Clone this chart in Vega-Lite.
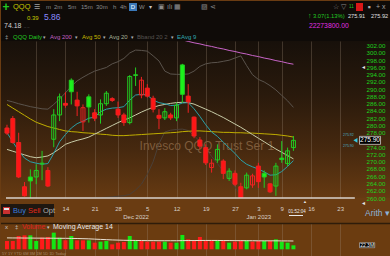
{
  "$schema": "https://vega.github.io/schema/vega-lite/v6.json",
  "background": "#6a3c12",
  "padding": 0,
  "spacing": 0,
  "bounds": "flush",
  "config": {"view": {"stroke": null}, "font": "Liberation Sans"},
  "resolve": {"scale": {"x": "independent", "y": "independent", "color": "independent", "fill": "independent", "stroke": "independent"}},
  "datasets": {
    "d": [
      {"i":0,"o":279.3,"h":280.2,"l":277.4,"c":277.9,"dir":"down","body":"falling","v":46.5,"vdir":"down","ma50":285.8,"ma20":273.4,"ema9":278.0,"bbu":286.9,"bbl":256.5,"vma":64},
      {"i":1,"o":281.9,"h":282.6,"l":275.0,"c":275.3,"dir":"down","body":"falling","v":46.5,"vdir":"down","ma50":284.8,"ma20":272.9,"ema9":275.5,"bbu":286.5,"bbl":256.0,"vma":63.5},
      {"i":2,"o":275.3,"h":278.0,"l":265.5,"c":265.8,"dir":"down","body":"falling","v":74.5,"vdir":"down","ma50":283.8,"ma20":272.4,"ema9":273.0,"bbu":286.0,"bbl":255.5,"vma":63.5},
      {"i":3,"o":263.1,"h":264.4,"l":260.4,"c":260.6,"dir":"down","body":"falling","v":78.2,"vdir":"down","ma50":282.8,"ma20":271.9,"ema9":271.0,"bbu":285.6,"bbl":255.0,"vma":63.0},
      {"i":4,"o":265.8,"h":267.9,"l":259.4,"c":264.7,"dir":"up","body":"falling","v":78.2,"vdir":"up","ma50":281.8,"ma20":271.4,"ema9":270.0,"bbu":285.2,"bbl":254.8,"vma":63.0},
      {"i":5,"o":265.8,"h":269.3,"l":263.8,"c":267.6,"dir":"up","body":"rising","v":46.5,"vdir":"up","ma50":280.9,"ma20":271.1,"ema9":269.6,"bbu":284.9,"bbl":255.0,"vma":62.5},
      {"i":6,"o":269.4,"h":273.0,"l":264.9,"c":269.6,"dir":"up","body":"rising","v":65.2,"vdir":"down","ma50":280.3,"ma20":271.3,"ema9":269.3,"bbu":284.6,"bbl":255.3,"vma":62.5},
      {"i":7,"o":267.6,"h":268.5,"l":263.0,"c":263.3,"dir":"down","body":"falling","v":69.0,"vdir":"down","ma50":279.7,"ma20":271.6,"ema9":269.5,"bbu":284.5,"bbl":255.8,"vma":62.0},
      {"i":8,"o":276.2,"h":284.5,"l":274.0,"c":282.9,"dir":"up","body":"rising","v":93.3,"vdir":"up","ma50":279.3,"ma20":272.5,"ema9":272.3,"bbu":285.8,"bbl":256.5,"vma":62.0},
      {"i":9,"o":282.9,"h":288.8,"l":281.2,"c":287.9,"dir":"up","body":"rising","v":65.2,"vdir":"up","ma50":278.9,"ma20":273.6,"ema9":275.5,"bbu":287.3,"bbl":257.3,"vma":61.5},
      {"i":10,"o":286.1,"h":289.2,"l":284.9,"c":285.6,"dir":"down","body":"falling","v":50.2,"vdir":"down","ma50":278.5,"ma20":274.8,"ema9":277.5,"bbu":289.0,"bbl":258.0,"vma":61.5},
      {"i":11,"o":292.5,"h":293.0,"l":285.8,"c":289.3,"dir":"up","body":"falling","v":74.5,"vdir":"up","ma50":278.3,"ma20":275.4,"ema9":279.3,"bbu":290.8,"bbl":258.7,"vma":61.0},
      {"i":12,"o":287.0,"h":289.3,"l":282.6,"c":285.4,"dir":"down","body":"falling","v":50.2,"vdir":"down","ma50":278.2,"ma20":275.9,"ema9":280.5,"bbu":292.3,"bbl":259.3,"vma":60.5},
      {"i":13,"o":281.0,"h":285.8,"l":278.5,"c":284.9,"dir":"down","body":"rising","v":50.2,"vdir":"down","ma50":278.0,"ma20":276.3,"ema9":281.2,"bbu":293.3,"bbl":259.7,"vma":59.5},
      {"i":14,"o":287.9,"h":288.6,"l":280.8,"c":285.1,"dir":"up","body":"falling","v":50.2,"vdir":"up","ma50":277.9,"ma20":276.8,"ema9":282.0,"bbu":294.2,"bbl":259.9,"vma":58.5},
      {"i":15,"o":283.5,"h":284.5,"l":281.2,"c":282.0,"dir":"down","body":"falling","v":37.2,"vdir":"down","ma50":277.8,"ma20":277.6,"ema9":282.3,"bbu":295.0,"bbl":260.0,"vma":57.0},
      {"i":16,"o":282.9,"h":287.2,"l":280.5,"c":286.0,"dir":"up","body":"rising","v":42.8,"vdir":"up","ma50":277.6,"ma20":278.4,"ema9":283.8,"bbu":295.5,"bbl":260.1,"vma":55.5},
      {"i":17,"o":286.0,"h":289.5,"l":285.4,"c":288.9,"dir":"up","body":"rising","v":46.5,"vdir":"up","ma50":277.5,"ma20":279.2,"ema9":284.5,"bbu":296.0,"bbl":260.2,"vma":54.0},
      {"i":18,"o":287.4,"h":287.8,"l":286.5,"c":286.9,"dir":"down","body":"falling","v":27.8,"vdir":"down","ma50":277.3,"ma20":280.0,"ema9":284.8,"bbu":297.0,"bbl":260.3,"vma":52.5},
      {"i":19,"o":284.5,"h":286.6,"l":282.1,"c":282.9,"dir":"down","body":"falling","v":37.2,"vdir":"down","ma50":277.2,"ma20":280.8,"ema9":284.9,"bbu":297.6,"bbl":260.5,"vma":51.5},
      {"i":20,"o":282.9,"h":283.5,"l":279.9,"c":280.8,"dir":"down","body":"falling","v":40.9,"vdir":"down","ma50":277.2,"ma20":281.5,"ema9":285.2,"bbu":298.5,"bbl":260.6,"vma":50.5},
      {"i":21,"o":280.8,"h":293.9,"l":280.3,"c":293.5,"dir":"up","body":"rising","v":74.5,"vdir":"up","ma50":277.3,"ma20":282.1,"ema9":287.0,"bbu":300.0,"bbl":261.0,"vma":50.0},
      {"i":22,"o":293.8,"h":296.0,"l":290.9,"c":294.0,"dir":"up","body":"rising","v":50.2,"vdir":"up","ma50":277.4,"ma20":282.9,"ema9":288.4,"bbu":300.8,"bbl":262.2,"vma":49.5},
      {"i":23,"o":288.4,"h":293.4,"l":287.5,"c":292.5,"dir":"down","body":"rising","v":46.5,"vdir":"down","ma50":277.5,"ma20":283.7,"ema9":288.6,"bbu":300.7,"bbl":263.8,"vma":49.0},
      {"i":24,"o":290.3,"h":291.4,"l":287.7,"c":288.1,"dir":"down","body":"falling","v":42.8,"vdir":"down","ma50":277.6,"ma20":284.4,"ema9":288.4,"bbu":300.5,"bbl":266.5,"vma":48.5},
      {"i":25,"o":287.5,"h":288.2,"l":283.6,"c":284.5,"dir":"down","body":"falling","v":42.8,"vdir":"down","ma50":277.7,"ma20":285.0,"ema9":287.0,"bbu":299.2,"bbl":270.0,"vma":48.5},
      {"i":26,"o":282.8,"h":284.5,"l":279.0,"c":282.0,"dir":"down","body":"falling","v":42.8,"vdir":"down","ma50":277.8,"ma20":285.5,"ema9":286.3,"bbu":297.8,"bbl":275.0,"vma":48.0},
      {"i":27,"o":282.1,"h":284.8,"l":281.5,"c":283.8,"dir":"up","body":"rising","v":42.8,"vdir":"up","ma50":277.9,"ma20":285.8,"ema9":286.0,"bbu":295.0,"bbl":278.2,"vma":48.0},
      {"i":28,"o":282.9,"h":283.5,"l":281.5,"c":282.1,"dir":"down","body":"falling","v":37.2,"vdir":"down","ma50":278.0,"ma20":286.1,"ema9":285.5,"bbu":294.2,"bbl":278.7,"vma":48.0},
      {"i":29,"o":282.1,"h":286.3,"l":281.2,"c":285.6,"dir":"up","body":"rising","v":37.2,"vdir":"up","ma50":278.1,"ma20":286.3,"ema9":285.6,"bbu":294.1,"bbl":278.9,"vma":48.0,"ma200":303.9},
      {"i":30,"o":296.7,"h":297.0,"l":286.3,"c":288.6,"dir":"up","body":"falling","v":80.3,"vdir":"up","ma50":278.3,"ma20":286.4,"ema9":286.2,"bbu":294.1,"bbl":279.0,"vma":48.5,"ma200":303.6},
      {"i":31,"o":288.1,"h":291.4,"l":283.5,"c":286.5,"dir":"down","body":"falling","v":55.8,"vdir":"down","ma50":278.4,"ma20":286.3,"ema9":286.3,"bbu":294.2,"bbl":278.6,"vma":49.0,"ma200":303.2},
      {"i":32,"o":282.3,"h":282.5,"l":276.5,"c":277.1,"dir":"down","body":"falling","v":46.5,"vdir":"down","ma50":278.5,"ma20":285.9,"ema9":284.6,"bbu":295.0,"bbl":277.2,"vma":49.0,"ma200":302.8},
      {"i":33,"o":276.0,"h":276.8,"l":273.5,"c":274.3,"dir":"down","body":"falling","v":69.0,"vdir":"down","ma50":278.5,"ma20":285.2,"ema9":282.5,"bbu":296.3,"bbl":275.6,"vma":49.5,"ma200":302.5},
      {"i":34,"o":273.9,"h":274.8,"l":269.1,"c":269.7,"dir":"down","body":"falling","v":50.2,"vdir":"down","ma50":278.4,"ma20":284.5,"ema9":280.2,"bbu":297.0,"bbl":273.6,"vma":49.5,"ma200":302.1},
      {"i":35,"o":268.4,"h":270.7,"l":267.0,"c":269.6,"dir":"down","body":"rising","v":50.2,"vdir":"down","ma50":278.3,"ma20":283.8,"ema9":278.2,"bbu":297.3,"bbl":271.5,"vma":49.5,"ma200":301.8},
      {"i":36,"o":270.5,"h":274.8,"l":269.7,"c":273.4,"dir":"up","body":"rising","v":50.2,"vdir":"up","ma50":278.2,"ma20":283.0,"ema9":277.0,"bbu":297.4,"bbl":269.5,"vma":49.5,"ma200":301.4},
      {"i":37,"o":270.2,"h":270.7,"l":265.2,"c":266.8,"dir":"down","body":"falling","v":50.2,"vdir":"down","ma50":278.1,"ma20":282.2,"ema9":275.4,"bbu":297.7,"bbl":267.4,"vma":49.0,"ma200":301.1},
      {"i":38,"o":265.4,"h":268.2,"l":264.7,"c":267.4,"dir":"up","body":"rising","v":37.2,"vdir":"up","ma50":278.1,"ma20":281.3,"ema9":273.8,"bbu":298.0,"bbl":265.3,"vma":49.0,"ma200":300.7},
      {"i":39,"o":266.8,"h":267.6,"l":263.3,"c":263.8,"dir":"down","body":"falling","v":42.8,"vdir":"down","ma50":278.0,"ma20":280.4,"ema9":272.3,"bbu":298.6,"bbl":263.0,"vma":48.5,"ma200":300.4},
      {"i":40,"o":263.1,"h":264.2,"l":260.1,"c":260.1,"dir":"down","body":"falling","v":46.5,"vdir":"down","ma50":278.0,"ma20":279.5,"ema9":270.5,"bbu":299.2,"bbl":260.7,"vma":48.5,"ma200":300.0},
      {"i":41,"o":262.8,"h":267.0,"l":262.4,"c":266.3,"dir":"up","body":"rising","v":50.2,"vdir":"up","ma50":277.9,"ma20":278.5,"ema9":269.3,"bbu":296.5,"bbl":259.2,"vma":48.0,"ma200":299.7},
      {"i":42,"o":263.6,"h":266.7,"l":262.8,"c":266.1,"dir":"down","body":"rising","v":42.8,"vdir":"down","ma50":277.9,"ma20":277.5,"ema9":268.6,"bbu":294.0,"bbl":258.2,"vma":48.0,"ma200":299.3},
      {"i":43,"o":268.8,"h":269.7,"l":262.8,"c":264.5,"dir":"down","body":"falling","v":46.5,"vdir":"down","ma50":277.8,"ma20":276.5,"ema9":268.0,"bbu":292.7,"bbl":257.5,"vma":47.5,"ma200":299.0},
      {"i":44,"o":266.8,"h":267.6,"l":262.8,"c":265.8,"dir":"up","body":"falling","v":46.5,"vdir":"up","ma50":277.7,"ma20":275.5,"ema9":267.2,"bbu":292.0,"bbl":257.2,"vma":47.5,"ma200":298.6},
      {"i":45,"o":263.9,"h":264.1,"l":261.4,"c":261.7,"dir":"down","body":"falling","v":46.5,"vdir":"down","ma50":277.6,"ma20":274.5,"ema9":266.3,"bbu":291.0,"bbl":257.0,"vma":47.5,"ma200":298.3},
      {"i":46,"o":263.3,"h":269.7,"l":260.6,"c":268.8,"dir":"up","body":"rising","v":55.8,"vdir":"up","ma50":277.5,"ma20":273.5,"ema9":266.4,"bbu":289.8,"bbl":256.8,"vma":47.5,"ma200":297.9},
      {"i":47,"o":271.0,"h":275.7,"l":269.7,"c":270.6,"dir":"up","body":"falling","v":42.8,"vdir":"up","ma50":277.3,"ma20":272.6,"ema9":267.3,"bbu":288.3,"bbl":256.8,"vma":47.0,"ma200":297.6},
      {"i":48,"o":269.5,"h":273.9,"l":268.8,"c":273.0,"dir":"up","body":"rising","v":37.2,"vdir":"up","ma50":277.1,"ma20":271.7,"ema9":268.7,"bbu":286.8,"bbl":256.9,"vma":47.0,"ma200":297.2},
      {"i":49,"o":273.9,"h":277.1,"l":273.0,"c":275.9,"dir":"up","body":"rising","v":22.3,"vdir":"up","ma50":276.8,"ma20":270.8,"ema9":270.3,"bbu":285.0,"bbl":257.0,"vma":46.5,"ma200":296.9}
    ]
  },
  "vconcat": [
    {
      "width": 390,
      "height": 40,
      "view": {"stroke": null, "fill": "#0f0b08"},
      "data": {"values": [{}]},
      "layer": [
        {"mark": {"type": "text", "text": "+", "x": 5, "y": 6, "align": "center", "baseline": "middle", "fontSize": 12, "fontWeight": "bold", "color": "#22c822"}},
        {"mark": {"type": "text", "text": "QQQ", "x": 12, "y": 6, "align": "left", "baseline": "middle", "fontSize": 7.5, "color": "#c8c800"}},
        {"mark": {"type": "text", "text": "☰", "x": 33, "y": 6, "align": "left", "baseline": "middle", "fontSize": 7, "color": "#a0a0a0"}},
        {"mark": {"type": "text", "text": "m", "x": 45, "y": 6, "align": "left", "baseline": "middle", "fontSize": 6, "color": "#8c8c8c"}},
        {"mark": {"type": "text", "text": "2m", "x": 53, "y": 6, "align": "left", "baseline": "middle", "fontSize": 6, "color": "#8c8c8c"}},
        {"mark": {"type": "text", "text": "5m", "x": 67, "y": 6, "align": "left", "baseline": "middle", "fontSize": 6, "color": "#8c8c8c"}},
        {"mark": {"type": "text", "text": "15m", "x": 80, "y": 6, "align": "left", "baseline": "middle", "fontSize": 6, "color": "#8c8c8c"}},
        {"mark": {"type": "text", "text": "30m", "x": 95, "y": 6, "align": "left", "baseline": "middle", "fontSize": 6, "color": "#8c8c8c"}},
        {"mark": {"type": "text", "text": "h", "x": 112, "y": 6, "align": "left", "baseline": "middle", "fontSize": 6, "color": "#8c8c8c"}},
        {"mark": {"type": "text", "text": "4h", "x": 119, "y": 6, "align": "left", "baseline": "middle", "fontSize": 6, "color": "#8c8c8c"}},
        {"mark": {"type": "rect", "x": 128, "x2": 136, "y": 2, "y2": 10, "color": "#3a78b8"}, "encoding": {}},
        {"mark": {"type": "text", "text": "D", "x": 132, "y": 6, "align": "center", "baseline": "middle", "fontSize": 6, "color": "#ffffff"}},
        {"mark": {"type": "text", "text": "W", "x": 138, "y": 6, "align": "left", "baseline": "middle", "fontSize": 6, "color": "#8c8c8c"}},
        {"mark": {"type": "text", "text": "▾", "x": 148, "y": 6, "align": "left", "baseline": "middle", "fontSize": 6, "color": "#c8c8c8"}},
        {"mark": {"type": "text", "text": "▣ ılı ▦", "x": 157, "y": 6, "align": "left", "baseline": "middle", "fontSize": 7, "color": "#8c8c8c"}},
        {"mark": {"type": "text", "text": "▨ ⋖", "x": 200, "y": 6, "align": "left", "baseline": "middle", "fontSize": 7, "color": "#8c8c8c"}},
        {"mark": {"type": "text", "text": "☆ ▽", "x": 332, "y": 6, "align": "left", "baseline": "middle", "fontSize": 6.5, "color": "#8c8c8c"}},
        {"mark": {"type": "text", "text": "11", "x": 348, "y": 6, "align": "left", "baseline": "middle", "fontSize": 4.5, "color": "#22c822"}},
        {"mark": {"type": "rect", "x": 355, "x2": 362, "y": 2, "y2": 10, "color": "#d81818"}, "encoding": {}},
        {"mark": {"type": "text", "text": "▪", "x": 368, "y": 6, "align": "center", "baseline": "middle", "fontSize": 9, "color": "#b0b0b0"}},
        {"mark": {"type": "text", "text": "+ x", "x": 375, "y": 6, "align": "left", "baseline": "middle", "fontSize": 7, "color": "#a0a0a0"}},
        {"mark": {"type": "text", "text": "0.39", "x": 26, "y": 16.5, "align": "left", "baseline": "middle", "fontSize": 6, "color": "#c8c800"}},
        {"mark": {"type": "text", "text": "5.86", "x": 43, "y": 16, "align": "left", "baseline": "middle", "fontSize": 8.5, "color": "#8a8aff"}},
        {"mark": {"type": "text", "text": "74.18", "x": 3, "y": 25, "align": "left", "baseline": "middle", "fontSize": 7, "color": "#d0d0d0"}},
        {"mark": {"type": "text", "text": "– –", "x": 23, "y": 26, "align": "left", "baseline": "middle", "fontSize": 4, "color": "#707070"}},
        {"mark": {"type": "text", "text": "↑", "x": 307, "y": 15, "align": "left", "baseline": "middle", "fontSize": 7, "fontWeight": "bold", "color": "#22c822"}},
        {"mark": {"type": "text", "text": "3.07(1.13%)", "x": 312, "y": 15, "align": "left", "baseline": "middle", "fontSize": 5.8, "color": "#22c822"}},
        {"mark": {"type": "text", "text": "275.91", "x": 347, "y": 15, "align": "left", "baseline": "middle", "fontSize": 5.6, "color": "#e0e0e0"}},
        {"mark": {"type": "text", "text": "275.92", "x": 370, "y": 15, "align": "left", "baseline": "middle", "fontSize": 5.6, "color": "#e0e0e0"}},
        {"mark": {"type": "text", "text": "22273800.00", "x": 308, "y": 24.5, "align": "left", "baseline": "middle", "fontSize": 6.8, "color": "#e030e0"}},
        {"mark": {"type": "rule", "x": 0, "x2": 390, "y": 30.5, "y2": 30.5, "color": "#3a2c1e", "strokeWidth": 1}, "encoding": {}},
        {"mark": {"type": "text", "text": "‡", "x": 4, "y": 36, "align": "left", "baseline": "middle", "fontSize": 6, "color": "#b0b0b0"}},
        {"mark": {"type": "text", "text": "QQQ Daily", "x": 12, "y": 36, "align": "left", "baseline": "middle", "fontSize": 6, "color": "#22c822"}},
        {"mark": {"type": "text", "text": "▾", "x": 42, "y": 36, "align": "left", "baseline": "middle", "fontSize": 5, "color": "#b0b0b0"}},
        {"mark": {"type": "text", "text": "Avg 200", "x": 49, "y": 36, "align": "left", "baseline": "middle", "fontSize": 6, "color": "#c060c0"}},
        {"mark": {"type": "text", "text": "▾", "x": 74, "y": 36, "align": "left", "baseline": "middle", "fontSize": 5, "color": "#b0b0b0"}},
        {"mark": {"type": "text", "text": "Avg 50", "x": 81, "y": 36, "align": "left", "baseline": "middle", "fontSize": 6, "color": "#c8b800"}},
        {"mark": {"type": "text", "text": "▾", "x": 102, "y": 36, "align": "left", "baseline": "middle", "fontSize": 5, "color": "#b0b0b0"}},
        {"mark": {"type": "text", "text": "Avg 20", "x": 108, "y": 36, "align": "left", "baseline": "middle", "fontSize": 6, "color": "#a8b098"}},
        {"mark": {"type": "text", "text": "▾", "x": 130, "y": 36, "align": "left", "baseline": "middle", "fontSize": 5, "color": "#b0b0b0"}},
        {"mark": {"type": "text", "text": "Bband 20 2", "x": 136, "y": 36, "align": "left", "baseline": "middle", "fontSize": 6, "color": "#585450"}},
        {"mark": {"type": "text", "text": "▾", "x": 170, "y": 36, "align": "left", "baseline": "middle", "fontSize": 5, "color": "#b0b0b0"}},
        {"mark": {"type": "text", "text": "EAvg 9", "x": 176, "y": 36, "align": "left", "baseline": "middle", "fontSize": 6, "color": "#30a8b0"}}
      ]
    },
    {
      "spacing": 25,
      "bounds": "flush",
      "resolve": {"scale": {"x": "independent", "y": "independent", "color": "independent", "fill": "independent", "stroke": "independent"}},
      "vconcat": [
        {
          "width": 390,
          "height": 157,
          "view": {"stroke": null, "fill": {"gradient": "linear", "x1": 0, "y1": 0, "x2": 0, "y2": 1, "stops": [{"offset": 0, "color": "#17100a"}, {"offset": 0.35, "color": "#2a1a0c"}, {"offset": 0.7, "color": "#47290f"}, {"offset": 1, "color": "#663a12"}]}},
          "data": {"name": "d"},
          "encoding": {
            "x": {"field": "i", "type": "quantitative", "scale": {"domain": [-0.1667, 64.8333], "nice": false, "zero": false},
              "axis": {"orient": "bottom", "values": [5, 10, 15, 19, 22, 24, 29, 34, 39, 43, 47, 52, 57],
                "labelExpr": "datum.value==10?'14':datum.value==15?'21':datum.value==19?'28':datum.value==22?['','Dec 2022']:datum.value==24?'5':datum.value==29?'12':datum.value==34?'19':datum.value==39?'27':datum.value==43?['3','Jan 2023']:datum.value==47?'9':datum.value==52?'16':datum.value==57?'23':''",
                "grid": true, "gridColor": "#a08c78", "gridOpacity": {"condition": {"test": "datum.value == 22", "value": 0}, "value": 0.3},
                "domain": false, "ticks": false, "labelColor": "#d8d0c8", "labelFontSize": 6, "labelPadding": 7, "labelBaseline": "top", "labelLineHeight": 8, "labelOverlap": false, "labelFlush": false, "labelBound": false, "title": null}},
            "y": {"type": "quantitative", "scale": {"domain": [260, 303.3], "nice": false, "zero": false},
              "axis": {"orient": "right", "offset": -28, "values": [260,262,264,266,268,270,272,274,278,280,282,284,286,288,290,292,294,296,298,300,302], "format": ".2f", "labelColor": "#1ed21e", "labelFontSize": 6.2, "labelPadding": 3, "ticks": false, "domain": false, "grid": false, "title": null, "labelAlign": "left", "labelBaseline": "middle", "zindex": 1}}
          },
          "layer": [
            {"data": {"values": [{"p": 274.3, "q": 34.2}]}, "mark": {"type": "text", "text": "Invesco QQQ Trust Ser 1", "fontSize": 12, "color": "#7e5c3c", "align": "center", "baseline": "middle"}, "encoding": {"x": {"field": "q", "type": "quantitative"}, "y": {"field": "p", "type": "quantitative"}}},
            {"mark": {"type": "line", "color": "#5a534c", "strokeWidth": 1, "clip": true}, "encoding": {"y": {"field": "bbu", "type": "quantitative"}}},
            {"mark": {"type": "line", "color": "#4a4038", "strokeWidth": 1, "clip": true}, "encoding": {"y": {"field": "bbl", "type": "quantitative"}}},
            {"mark": {"type": "line", "color": "#c864c8", "strokeWidth": 1, "clip": true}, "encoding": {"y": {"field": "ma200", "type": "quantitative"}}},
            {"mark": {"type": "line", "color": "#c0ae00", "strokeWidth": 1, "clip": true}, "encoding": {"y": {"field": "ma50", "type": "quantitative"}}},
            {"mark": {"type": "line", "color": "#c8cca8", "strokeWidth": 1, "clip": true}, "encoding": {"y": {"field": "ma20", "type": "quantitative"}}},
            {"mark": {"type": "line", "color": "#2aa0a8", "strokeWidth": 1, "clip": true}, "encoding": {"y": {"field": "ema9", "type": "quantitative"}}},
            {"mark": {"type": "rule", "strokeWidth": 1, "clip": true},
              "encoding": {
                "y": {"field": "l", "type": "quantitative"},
                "y2": {"field": "h"},
                "color": {"field": "dir", "type": "nominal", "scale": {"domain": ["up", "down"], "range": ["#22cc22", "#ee2222"]}, "legend": null}
              }},
            {"mark": {"type": "bar", "width": 4, "strokeWidth": 1, "clip": true},
              "encoding": {
                "y": {"field": "o", "type": "quantitative"},
                "y2": {"field": "c"},
                "stroke": {"field": "dir", "type": "nominal", "scale": {"domain": ["up", "down"], "range": ["#22cc22", "#ee2222"]}, "legend": null},
                "fill": {"condition": {"test": "datum.body == 'rising'", "value": "transparent"}, "field": "dir", "type": "nominal", "scale": {"domain": ["up", "down"], "range": ["#1cf21c", "#ff1515"]}, "legend": null}
              }},
            {"data": {"values": [{"p": 260, "q": -0.17, "q2": 59.5}]}, "mark": {"type": "rule", "color": "#d8d2cc", "strokeWidth": 1.5}, "encoding": {"x": {"field": "q", "type": "quantitative"}, "x2": {"field": "q2"}, "y": {"field": "p", "type": "quantitative"}}},
            {"data": {"values": [{"p": 277.0, "p2": 274.8, "q": 60.3, "q2": 63.9}]}, "mark": {"type": "rect", "fill": "#000000", "stroke": "#e8e8e8", "strokeWidth": 0.7}, "encoding": {"x": {"field": "q", "type": "quantitative"}, "x2": {"field": "q2"}, "y": {"field": "p", "type": "quantitative"}, "y2": {"field": "p2"}}},
            {"data": {"values": [{"p": 275.9, "q": 62.1}]}, "mark": {"type": "text", "text": "275.90", "fontSize": 6.5, "color": "#ffffff", "align": "center", "baseline": "middle"}, "encoding": {"x": {"field": "q", "type": "quantitative"}, "y": {"field": "p", "type": "quantitative"}}},
            {"data": {"values": [{"p": 275.9, "q": 59.6}]}, "mark": {"type": "point", "shape": "triangle-left", "filled": true, "size": 22, "color": "#38c8e0", "opacity": 1}, "encoding": {"x": {"field": "q", "type": "quantitative"}, "y": {"field": "p", "type": "quantitative"}}},
            {"data": {"values": [{"p": 277.4, "q": 58.4}]}, "mark": {"type": "text", "text": "275.92", "fontSize": 3.5, "color": "#4ab0c8", "align": "center", "baseline": "middle"}, "encoding": {"x": {"field": "q", "type": "quantitative"}, "y": {"field": "p", "type": "quantitative"}}},
            {"data": {"values": [{"p": 274.4, "q": 58.4}]}, "mark": {"type": "text", "text": "275.90", "fontSize": 3.5, "color": "#4ab0c8", "align": "center", "baseline": "middle"}, "encoding": {"x": {"field": "q", "type": "quantitative"}, "y": {"field": "p", "type": "quantitative"}}},
            {"data": {"values": [{}]}, "mark": {"type": "rect", "fill": "#1e1710"}, "encoding": {"x": {"value": 0}, "x2": {"value": 53}, "y": {"value": 163}, "y2": {"value": 176}}},
            {"data": {"values": [{}]}, "mark": {"type": "rect", "fill": "#c83030"}, "encoding": {"x": {"value": 2}, "x2": {"value": 9}, "y": {"value": 166}, "y2": {"value": 173}}},
            {"data": {"values": [{}]}, "mark": {"type": "rect", "fill": "#e8e8e8"}, "encoding": {"x": {"value": 3}, "x2": {"value": 8}, "y": {"value": 167}, "y2": {"value": 169}}},
            {"data": {"values": [{}]}, "mark": {"type": "text", "text": "Buy", "fontSize": 7.5, "color": "#3b7bd8", "align": "left", "baseline": "middle"}, "encoding": {"x": {"value": 12}, "y": {"value": 170}}},
            {"data": {"values": [{}]}, "mark": {"type": "text", "text": "Sell", "fontSize": 7.5, "color": "#e02a1a", "align": "left", "baseline": "middle"}, "encoding": {"x": {"value": 27}, "y": {"value": 170}}},
            {"data": {"values": [{}]}, "mark": {"type": "text", "text": "Opt", "fontSize": 7.5, "color": "#b0b0b0", "align": "left", "baseline": "middle"}, "encoding": {"x": {"value": 42}, "y": {"value": 170}}},
            {"data": {"values": [{}]}, "mark": {"type": "text", "text": "Arith ▾", "fontSize": 8.5, "color": "#8db3d8", "align": "left", "baseline": "middle"}, "encoding": {"x": {"value": 364}, "y": {"value": 171.5}}},
            {"data": {"values": [{}]}, "mark": {"type": "text", "text": "01:52:04", "fontSize": 4.5, "color": "#e8e8e8", "align": "center", "baseline": "middle"}, "encoding": {"x": {"value": 296}, "y": {"value": 170.5}}},
            {"data": {"values": [{}]}, "mark": {"type": "rule", "color": "#e8e8e8", "strokeWidth": 1}, "encoding": {"x": {"value": 288}, "x2": {"value": 302}, "y": {"value": 174.5}}},
            {"data": {"values": [{}]}, "mark": {"type": "text", "text": "▲", "fontSize": 4, "color": "#e8e8e8", "align": "center", "baseline": "middle"}, "encoding": {"x": {"value": 304}, "y": {"value": 160.5}}},
            {"data": {"values": [{}]}, "mark": {"type": "text", "text": "◂", "fontSize": 6, "color": "#e8e8e8", "align": "center", "baseline": "middle"}, "encoding": {"x": {"value": 362}, "y": {"value": 26}}},
            {"data": {"values": [{}]}, "mark": {"type": "text", "text": "◂", "fontSize": 6, "color": "#e8e8e8", "align": "center", "baseline": "middle"}, "encoding": {"x": {"value": 362}, "y": {"value": 161.5}}}
          ]
        },
        {
          "width": 390,
          "height": 34,
          "view": {"stroke": null, "fill": "#6b3c10"},
          "data": {"name": "d"},
          "encoding": {
            "x": {"field": "i", "type": "quantitative", "scale": {"domain": [-0.1667, 64.8333], "nice": false, "zero": false},
              "axis": {"values": [5, 10, 15, 19, 24, 29, 34, 39, 43, 47, 52, 57], "grid": true, "gridColor": "#a08c78", "gridOpacity": 0.3, "labels": false, "ticks": false, "domain": false, "title": null}},
            "y": {"type": "quantitative", "scale": {"domain": [-43.1, 147.3], "nice": false, "zero": false}, "axis": null}
          },
          "layer": [
            {"data": {"values": [{}]}, "mark": {"type": "rule", "color": "#2e1c0a", "strokeWidth": 1.5}, "encoding": {"x": {"value": 0}, "x2": {"value": 390}, "y": {"value": 0.5}}},
            {"mark": {"type": "bar", "width": 4},
              "encoding": {
                "y": {"field": "v", "type": "quantitative"},
                "y2": {"datum": 0},
                "color": {"field": "vdir", "type": "nominal", "scale": {"domain": ["up", "down"], "range": ["#14e614", "#ff1a1a"]}, "legend": null}
              }},
            {"mark": {"type": "line", "color": "#e8e0d0", "strokeWidth": 1}, "encoding": {"y": {"field": "vma", "type": "quantitative"}}},
            {"data": {"values": [{}]}, "mark": {"type": "text", "text": "x", "fontSize": 6, "color": "#c8c8c8", "align": "left", "baseline": "middle"}, "encoding": {"x": {"value": 4}, "y": {"value": 4}}},
            {"data": {"values": [{}]}, "mark": {"type": "text", "text": "‡", "fontSize": 6, "color": "#c8c8c8", "align": "left", "baseline": "middle"}, "encoding": {"x": {"value": 14}, "y": {"value": 4}}},
            {"data": {"values": [{}]}, "mark": {"type": "text", "text": "Volume", "fontSize": 7, "color": "#e02020", "align": "left", "baseline": "middle"}, "encoding": {"x": {"value": 21}, "y": {"value": 4}}},
            {"data": {"values": [{}]}, "mark": {"type": "text", "text": "▾", "fontSize": 5, "color": "#c8c8c8", "align": "left", "baseline": "middle"}, "encoding": {"x": {"value": 46}, "y": {"value": 4}}},
            {"data": {"values": [{}]}, "mark": {"type": "text", "text": "Moving Average 14", "fontSize": 7, "color": "#e8e8e8", "align": "left", "baseline": "middle"}, "encoding": {"x": {"value": 52}, "y": {"value": 4}}},
            {"data": {"values": [{}]}, "mark": {"type": "text", "text": "5Y   1Y   YTD   6M   3M   1M   5D   1D   Today", "fontSize": 4, "color": "#a88a68", "align": "left", "baseline": "middle"}, "encoding": {"x": {"value": 1}, "y": {"value": 31.3}}},
            {"data": {"values": [{"p": 37, "p2": 9, "q": 60.3, "q2": 62.9}]}, "mark": {"type": "rect", "fill": "#000000", "stroke": "#d0d0d0", "strokeWidth": 0.6}, "encoding": {"x": {"field": "q", "type": "quantitative"}, "x2": {"field": "q2"}, "y": {"field": "p", "type": "quantitative"}, "y2": {"field": "p2"}}},
            {"data": {"values": [{"p": 23, "q": 61.6}]}, "mark": {"type": "text", "text": "22.3M", "fontSize": 5, "color": "#ffffff", "align": "center", "baseline": "middle"}, "encoding": {"x": {"field": "q", "type": "quantitative"}, "y": {"field": "p", "type": "quantitative"}}}
          ]
        }
      ]
    }
  ]
}
